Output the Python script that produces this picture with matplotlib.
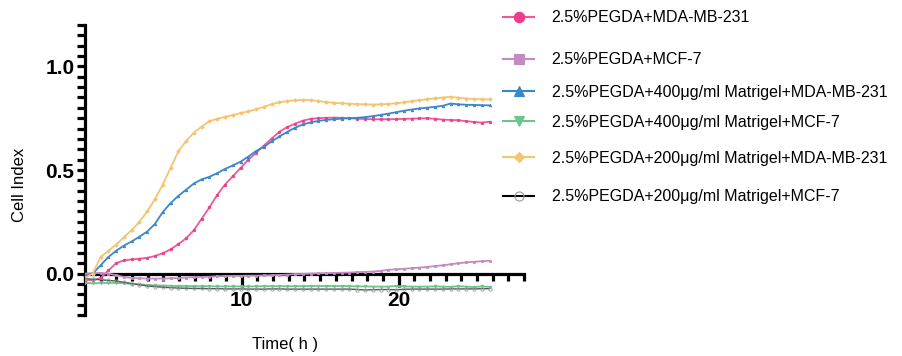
import numpy as np
import matplotlib
matplotlib.use("Agg")
import matplotlib.pyplot as plt
from matplotlib.lines import Line2D
from matplotlib.ticker import MultipleLocator, FixedLocator

plt.rcParams['font.family'] = ['Liberation Sans', 'DejaVu Sans']

# ---------------- data ----------------
hours = np.linspace(0, 25.8, 53)

labels = [
    "2.5%PEGDA+MDA-MB-231",
    "2.5%PEGDA+MCF-7",
    "2.5%PEGDA+400μg/ml Matrigel+MDA-MB-231",
    "2.5%PEGDA+400μg/ml Matrigel+MCF-7",
    "2.5%PEGDA+200μg/ml Matrigel+MDA-MB-231",
    "2.5%PEGDA+200μg/ml Matrigel+MCF-7",
]

pegda_mda = [-0.03, -0.032, -0.022, 0.015, 0.05, 0.064, 0.068, 0.072, 0.076, 0.085,
             0.098, 0.117, 0.142, 0.17, 0.21, 0.265, 0.32, 0.38, 0.43, 0.47,
             0.51, 0.55, 0.583, 0.618, 0.652, 0.685, 0.707, 0.724, 0.738, 0.747,
             0.750, 0.752, 0.753, 0.752, 0.750, 0.748, 0.746, 0.745, 0.745, 0.745,
             0.746, 0.747, 0.748, 0.749, 0.750, 0.747, 0.743, 0.742, 0.740, 0.736,
             0.732, 0.729, 0.733]

pegda_mcf = [0.0, 0.002, 0.003, 0.0, -0.008, -0.016, -0.021, -0.023, -0.024, -0.024,
             -0.024, -0.023, -0.022, -0.019, -0.017, -0.016, -0.015, -0.013, -0.012, -0.011,
             -0.011, -0.010, -0.010, -0.009, -0.008, -0.007, -0.005, -0.003, -0.002, 0.0,
             0.001, 0.002, 0.003, 0.004, 0.005, 0.007, 0.008, 0.010, 0.013, 0.018,
             0.021, 0.023, 0.026, 0.029, 0.032, 0.036, 0.040, 0.045, 0.050, 0.054,
             0.057, 0.060, 0.062]

m400_mda = [-0.01, 0.0, 0.04, 0.08, 0.11, 0.135, 0.155, 0.178, 0.203, 0.24,
            0.297, 0.34, 0.375, 0.405, 0.435, 0.455, 0.467, 0.485, 0.505, 0.522,
            0.54, 0.565, 0.592, 0.612, 0.638, 0.662, 0.684, 0.704, 0.720, 0.730,
            0.737, 0.742, 0.745, 0.748, 0.750, 0.752, 0.755, 0.760, 0.766, 0.772,
            0.779, 0.786, 0.792, 0.797, 0.801, 0.805, 0.810, 0.821, 0.817, 0.815,
            0.814, 0.813, 0.812]

m400_mcf = [-0.045, -0.047, -0.046, -0.045, -0.045, -0.047, -0.050, -0.052, -0.055, -0.057,
            -0.058, -0.059, -0.060, -0.060, -0.061, -0.061, -0.061, -0.062, -0.062, -0.062,
            -0.062, -0.062, -0.062, -0.061, -0.061, -0.061, -0.061, -0.061, -0.061, -0.060,
            -0.060, -0.060, -0.060, -0.060, -0.061, -0.062, -0.062, -0.063, -0.063, -0.063,
            -0.060, -0.062, -0.063, -0.063, -0.063, -0.062, -0.063, -0.064, -0.061, -0.063,
            -0.065, -0.062, -0.064]

m200_mda = [-0.02, 0.0, 0.08, 0.11, 0.14, 0.175, 0.21, 0.25, 0.30, 0.36,
            0.43, 0.51, 0.59, 0.64, 0.68, 0.71, 0.735, 0.748, 0.756, 0.765,
            0.775, 0.783, 0.793, 0.805, 0.818, 0.827, 0.833, 0.836, 0.838, 0.838,
            0.833, 0.828, 0.824, 0.822, 0.820, 0.818, 0.817, 0.816, 0.817, 0.819,
            0.822, 0.827, 0.832, 0.837, 0.842, 0.846, 0.850, 0.853, 0.849, 0.845,
            0.843, 0.841, 0.841]

m200_mcf = [-0.025, -0.027, -0.030, -0.033, -0.036, -0.042, -0.048, -0.054, -0.060, -0.063,
            -0.066, -0.068, -0.070, -0.071, -0.072, -0.072, -0.073, -0.073, -0.074, -0.074,
            -0.074, -0.075, -0.075, -0.075, -0.074, -0.074, -0.075, -0.075, -0.075, -0.075,
            -0.075, -0.075, -0.075, -0.075, -0.075, -0.077, -0.079, -0.078, -0.077, -0.077,
            -0.078, -0.076, -0.075, -0.075, -0.075, -0.075, -0.075, -0.074, -0.074, -0.074,
            -0.074, -0.073, -0.073]

series = [pegda_mda, pegda_mcf, m400_mda, m400_mcf, m200_mda, m200_mcf]

# ---------------- styles ----------------
line_colors = ['#F0589A', '#C38BC1', '#3A87CA', '#6CC58B', '#F6C46E', '#000000']
plot_line_colors = ['#F0589A', '#C38BC1', '#3A87CA', '#6CC58B', '#F6C46E', '#555555']
mk_colors = ['#EE3D88', '#C38BC1', '#3A87CA', '#6CC58B', '#F6C46E', '#9A9A9A']
markers = ['o', 's', '^', 'v', 'D', 'o']
leg_ms = [7.5, 7.5, 7.5, 7.5, 5.5, 6.5]
legend_y_px = [18, 60, 92, 122, 158, 197]

W, H = 903, 356
fig = plt.figure(figsize=(W / 100, H / 100), dpi=100)
ax = fig.add_axes([85 / W, 1 - 315 / H, (524 - 85) / W, (315 - 25) / H])

for vals, lc, mc, mk in zip(series, plot_line_colors, mk_colors, markers):
    hollow = mc == '#9A9A9A'
    ax.plot(hours, vals, color=lc, lw=1.0 if hollow else 1.3, marker=mk,
            ms=2.4 if hollow else 1.8,
            mfc='none' if hollow else mc, mec=mc, mew=0.6, zorder=3)

ax.set_xlim(0, 28)
ax.set_ylim(-0.2, 1.2)

for s in ['top', 'right']:
    ax.spines[s].set_visible(False)
ax.spines['bottom'].set_position(('data', 0))
ax.spines['bottom'].set_linewidth(2.3)
ax.spines['left'].set_linewidth(2.3)
ax.spines['bottom'].set_zorder(2)

ax.xaxis.set_major_locator(FixedLocator([10, 20]))
ax.xaxis.set_minor_locator(MultipleLocator(1))
ax.yaxis.set_major_locator(FixedLocator([0.0, 0.5, 1.0]))
ax.yaxis.set_minor_locator(MultipleLocator(0.05))
ax.set_yticklabels(['0.0', '0.5', '1.0'])
ax.set_xticklabels(['10', '20'])

ax.tick_params(axis='x', which='major', direction='out', length=9.5, width=2.3, pad=3)
ax.tick_params(axis='x', which='minor', direction='out', length=5, width=2.3)
ax.tick_params(axis='y', which='both', direction='out', length=5.5, width=2.3, pad=2)
for lab in ax.get_xticklabels() + ax.get_yticklabels():
    lab.set_fontweight('bold')
    lab.set_fontsize(15)

ax.set_ylabel('Cell Index', fontsize=12)
ax.yaxis.set_label_coords(-0.133, 0.448)
ax.set_xlabel('Time( h )', fontsize=12)
ax.xaxis.set_label_coords(0.456, -0.075)

# legend, one entry per row
for lab, lc, mc, mk, ms, ypx in zip(labels, line_colors, mk_colors, markers, leg_ms, legend_y_px):
    face = 'none' if mc == '#9A9A9A' else mc
    h = Line2D([], [], color=lc, lw=1.5, marker=mk, ms=ms, mfc=face, mec=mc, mew=0.8)
    fig.legend(handles=[h], labels=[lab], loc='center left',
               bbox_to_anchor=(503 / W, 1 - ypx / H), frameon=False,
               handlelength=1.95, handletextpad=1.1, borderpad=0, borderaxespad=0,
               fontsize=11.5)

fig.savefig('out.png', dpi=100)
